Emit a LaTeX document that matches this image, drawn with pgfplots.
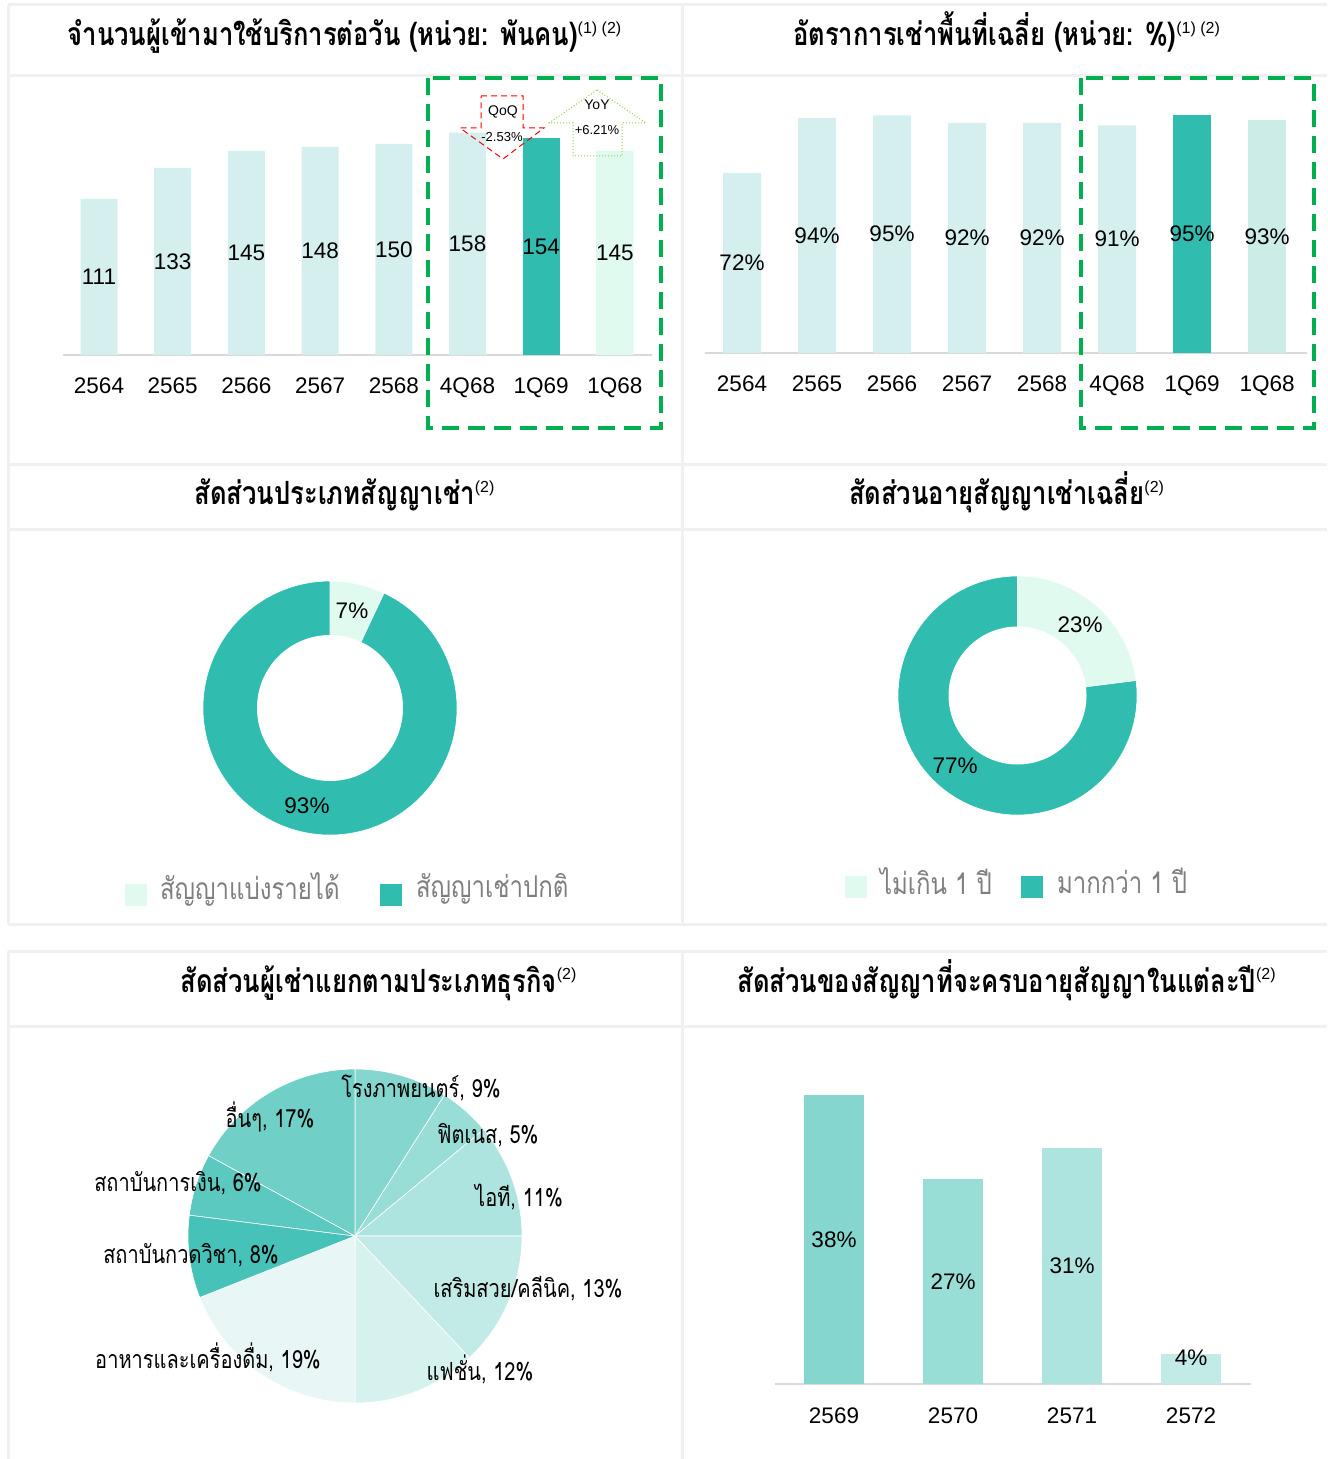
\documentclass[border=0pt]{standalone}
\usepackage{pgfplots}
\pgfplotsset{compat=1.18}
\usepackage{pgfplotstable}
\usepackage{fontspec}
\setmainfont{Liberation Sans}
\newfontfamily\thai[Script=Thai]{Loma}
\newfontfamily\thaic[Script=Thai,FakeStretch=0.8]{Loma}

\definecolor{lt}{HTML}{D5EFEE}
\definecolor{lt2}{HTML}{CCECE8}
\definecolor{dk}{HTML}{31BCB0}
\definecolor{mint}{HTML}{E0FAF0}
\definecolor{gbox}{HTML}{00B050}
\definecolor{frm}{HTML}{F0F0F0}
\definecolor{axln}{HTML}{D9D9D9}
\definecolor{lgd}{HTML}{7F7F7F}
\definecolor{yoy}{HTML}{92D050}
\definecolor{c1}{HTML}{85D6CF}
\definecolor{c2}{HTML}{99DDD7}
\definecolor{c3}{HTML}{AEE4DF}
\definecolor{c4}{HTML}{C2EBE7}
\definecolor{c5}{HTML}{D6F2EF}
\definecolor{c6}{HTML}{E8F7F6}
\definecolor{c7}{HTML}{47C2B8}
\definecolor{c8}{HTML}{5BC9BF}
\definecolor{c9}{HTML}{70CFC7}

\newcommand\numfont{\fontsize{11.25}{13}\selectfont}
\newcommand\titlefont{\thaic\bfseries\fontsize{16}{18}\selectfont}
\newcommand\sups[1]{\textsuperscript{\rmfamily\mdseries\fontsize{8}{9}\selectfont #1}}

\pgfplotstableread{
x v
0 111
1 133
2 145
3 148
4 150
5 158
6 154
7 145
}\visitors
\pgfplotstableread{
x v
0 72
1 94
2 95
3 92
4 92
5 91
6 95
7 93
}\occupancy
\pgfplotstableread{
x v
0 38
1 27
2 31
3 4
}\expiry

\pgfplotsset{
  barax/.style={
    scale only axis, anchor=origin, clip=false,
    axis x line*=bottom, hide y axis,
    x axis line style={draw=axln, line width=1pt, -},
    major tick length=0pt, ymin=0,
    xtick={0,...,7},
    ticklabel style={font=\numfont, text=black},
    xticklabel style={anchor=base, yshift=-19.5pt},
    /pgf/number format/assume math mode=true,
  },
  pieax/.style={
    hide axis, scale only axis, anchor=origin, clip=false,
    x=0.5pt, y=0.5pt, xmin=-1, xmax=1, ymin=-1, ymax=1,
  },
  vlab/.style={draw=none, mark=none, nodes near coords, point meta=explicit,
    every node near coord/.append style={anchor=center, font=\numfont, text=black}},
}

% pie slices, clockwise from 12 o'clock; #1 radius, #2 list value/colour
\newcommand\pieslices[2]{%
  \gdef\cum{0}%
  \foreach \v/\c in {#2}{%
    \pgfmathsetmacro\a{90-3.6*\cum}%
    \pgfmathsetmacro\b{90-3.6*(\cum+\v)}%
    \fill[fill=\c, draw=white, line width=0.3pt] (axis cs:0,0) -- ++(\a:#1) arc[start angle=\a, end angle=\b, radius=#1] -- cycle;%
    \pgfmathsetmacro\t{\cum+\v}\xdef\cum{\t}%
  }%
}

\begin{document}
\begin{tikzpicture}[x=0.5pt,y=-0.5pt]
\useasboundingbox (0,0) rectangle (1327,1459);
% frames
\begin{scope}[draw=frm, line width=1.5pt]
\draw (8,5) -- (1327,5);
\draw (8,76) -- (1327,76);
\draw (8,465) -- (1327,465);
\draw (8,529) -- (1327,529);
\draw (8,924) -- (1327,924);
\draw (8,951) -- (1327,951);
\draw (8,1026) -- (1327,1026);
\draw (8,5) -- (8,924);
\draw (682,5) -- (682,924);
\draw (8,951) -- (8,1459);
\draw (682,951) -- (682,1459);
\end{scope}

% titles
\node[anchor=base] at (345,46) {\titlefont จำนวนผู้เข้ามาใช้บริการต่อวัน (หน่วย: พันคน)\sups{(1) (2)}};
\node[anchor=base] at (1007,46) {\titlefont อัตราการเช่าพื้นที่เฉลี่ย (หน่วย: \%)\sups{(1) (2)}};
\node[anchor=base] at (345,505) {\titlefont สัดส่วนประเภทสัญญาเช่า\sups{(2)}};
\node[anchor=base] at (1007,505) {\titlefont สัดส่วนอายุสัญญาเช่าเฉลี่ย\sups{(2)}};
\node[anchor=base] at (379,992) {\titlefont สัดส่วนผู้เช่าแยกตามประเภทธุรกิจ\sups{(2)}};
\node[anchor=base] at (1007,992) {\titlefont สัดส่วนของสัญญาที่จะครบอายุสัญญาในแต่ละปี\sups{(2)}};

\coordinate (o1) at (99,355);
\coordinate (o2) at (742,353);
\coordinate (o3) at (330,708);
\coordinate (o4) at (1017.5,695.5);
\coordinate (o5) at (355,1236);
\coordinate (o6) at (834,1384);

% panel 1
\begin{axis}[barax, at={(o1)}, x=36.85pt, y=0.7035pt, xmin=-0.49, xmax=7.5, ymax=170,
  xticklabels={2564,2565,2566,2567,2568,4Q68,1Q69,1Q68}]
\addplot[ybar, bar shift=0pt, bar width=18.5pt, fill=lt, draw=none] table[x=x,y=v] {\visitors};
\addplot[ybar, bar shift=0pt, bar width=18.5pt, fill=dk, draw=none, restrict x to domain=6:6] table[x=x,y=v] {\visitors};
\addplot[ybar, bar shift=0pt, bar width=18.5pt, fill=mint, draw=none, restrict x to domain=7:7] table[x=x,y=v] {\visitors};
\addplot[vlab, nodes near coords={\pgfmathprintnumber{\pgfplotspointmeta}}] table[x=x, y expr=\thisrow{v}/2, meta=v] {\visitors};
\end{axis}

% panel 2
\begin{axis}[barax, at={(o2)}, x=37.5pt, y=1.25pt, xmin=-0.49, xmax=7.53, ymax=100,
  xticklabels={2564,2565,2566,2567,2568,4Q68,1Q69,1Q68}]
\addplot[ybar, bar shift=0pt, bar width=19pt, fill=lt, draw=none] table[x=x,y=v] {\occupancy};
\addplot[ybar, bar shift=0pt, bar width=19pt, fill=dk, draw=none, restrict x to domain=6:6] table[x=x,y=v] {\occupancy};
\addplot[ybar, bar shift=0pt, bar width=19pt, fill=lt2, draw=none, restrict x to domain=7:7] table[x=x,y=v] {\occupancy};
\addplot[vlab, nodes near coords={\pgfmathprintnumber{\pgfplotspointmeta}\%}] table[x=x, y expr=\thisrow{v}/2, meta=v] {\occupancy};
\end{axis}

% panel 6
\begin{axis}[barax, at={(o6)}, x=59.5pt, y=3.8pt, xmin=-0.496, xmax=3.5, ymax=40,
  xtick={0,...,3}, xticklabels={2569,2570,2571,2572}]
\addplot[ybar, bar shift=0pt, bar width=30pt, fill=c1, draw=none, restrict x to domain=0:0] table[x=x,y=v] {\expiry};
\addplot[ybar, bar shift=0pt, bar width=30pt, fill=c2, draw=none, restrict x to domain=1:1] table[x=x,y=v] {\expiry};
\addplot[ybar, bar shift=0pt, bar width=30pt, fill=c3, draw=none, restrict x to domain=2:2] table[x=x,y=v] {\expiry};
\addplot[ybar, bar shift=0pt, bar width=30pt, fill=c4, draw=none, restrict x to domain=3:3] table[x=x,y=v] {\expiry};
\addplot[vlab, nodes near coords={\pgfmathprintnumber{\pgfplotspointmeta}\%}, restrict x to domain=0:2] table[x=x, y expr=\thisrow{v}/2, meta=v] {\expiry};
\addplot[vlab, nodes near coords={\pgfmathprintnumber{\pgfplotspointmeta}\%}, restrict x to domain=3:3] table[x=x, y expr=\thisrow{v}*0.85, meta=v] {\expiry};
\end{axis}

% panel 3 donut
\begin{axis}[pieax, at={(o3)}]
\addplot[draw=none] coordinates {(0,0)};
\pgfplotsextra{%
  \pieslices{63.5pt}{7/mint,93/dk}%
  \fill[white] (axis cs:0,0) circle[radius=36.5pt];%
}
\end{axis}
\node[font=\numfont] at (352,611) {7\%};
\node[font=\numfont] at (307,806) {93\%};

% panel 4 donut
\begin{axis}[pieax, at={(o4)}]
\addplot[draw=none] coordinates {(0,0)};
\pgfplotsextra{%
  \pieslices{59.75pt}{23/mint,77/dk}%
  \fill[white] (axis cs:0,0) circle[radius=34.5pt];%
}
\end{axis}
\node[font=\numfont] at (1080,625) {23\%};
\node[font=\numfont] at (955,766) {77\%};

% legends
\begin{scope}[every node/.style={font=\thaic\fontsize{15}{17}\selectfont, text=lgd, anchor=west}]
\fill[mint] (125,884) rectangle (147,906);
\node at (153,889) {สัญญาแบ่งรายได้};
\fill[dk] (380,884) rectangle (402,906);
\node at (409,889) {สัญญาเช่าปกติ};
\fill[mint] (845,876) rectangle (867,898);
\node at (873,881) {ไม่เกิน 1 ปี};
\fill[dk] (1021,876) rectangle (1043,898);
\node at (1050,881) {มากกว่า 1 ปี};
\end{scope}

% panel 5 pie
\begin{axis}[pieax, at={(o5)}]
\addplot[draw=none] coordinates {(0,0)};
\pgfplotsextra{%
  \pieslices{83.5pt}{9/c1,5/c2,11/c3,13/c4,12/c5,19/c6,8/c7,6/c8,17/c9}%
}
\end{axis}
\begin{scope}[every node/.style={font=\thaic\fontsize{12.5}{14}\selectfont, text=black}]
\node at (421,1088) {โรงภาพยนตร์, 9\%};
\node at (488,1135) {ฟิตเนส, 5\%};
\node at (519,1197) {ไอที, 11\%};
\node at (528,1289) {เสริมสวย/คลีนิค, 13\%};
\node at (480,1369) {แฟชั่น, 12\%};
\node at (208,1357) {อาหารและเครื่องดื่ม, 19\%};
\node at (191,1255) {สถาบันกวดวิชา, 8\%};
\node at (178,1183) {สถาบันการเงิน, 6\%};
\node at (270,1117) {อื่นๆ, 17\%};
\end{scope}

% highlight boxes
\draw[gbox, line width=2pt, dash pattern=on 8.5pt off 4.5pt] (428,78) rectangle (661,428);
\draw[gbox, line width=2pt, dash pattern=on 8.5pt off 4.5pt] (1081,78) rectangle (1314,428);

% QoQ / YoY arrows
\draw[red, densely dashed, line width=0.5pt] (481,96) -- (523,96) -- (523,128) -- (544,128) -- (503,159) -- (460,128) -- (481,128) -- cycle;
\node[font=\fontsize{7}{8}\selectfont] at (503,112) {QoQ};
\node[font=\fontsize{6.5}{8}\selectfont] at (502,137) {-2.53\%};
\draw[yoy, densely dotted, line width=0.5pt] (597,90) -- (646,123) -- (622,123) -- (622,156) -- (573,156) -- (573,123) -- (549,123) -- cycle;
\node[font=\fontsize{7}{8}\selectfont] at (597,105) {YoY};
\node[font=\fontsize{6.5}{8}\selectfont] at (597,130) {+6.21\%};
\end{tikzpicture}
\end{document}
